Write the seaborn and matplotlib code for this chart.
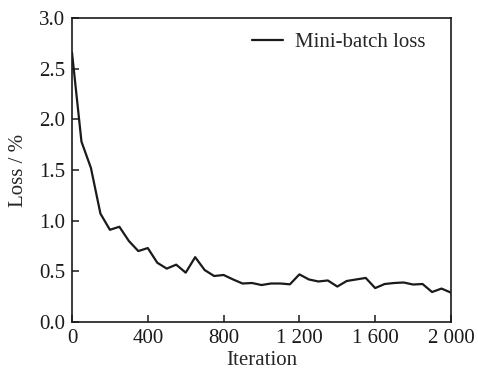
import matplotlib
matplotlib.use("Agg")
import matplotlib.pyplot as plt
import seaborn as sns
import pandas as pd

iterations = [0, 50, 100, 150, 200, 250, 300, 350, 400, 450, 500, 550, 600, 650, 700, 750,
              800, 850, 900, 950, 1000, 1050, 1100, 1150, 1200, 1250, 1300, 1350, 1400, 1450,
              1500, 1550, 1600, 1650, 1700, 1750, 1800, 1850, 1900, 1950, 2000]
loss = [2.66, 1.78, 1.52, 1.07, 0.91, 0.94, 0.80, 0.70, 0.73, 0.585, 0.527, 0.566, 0.487, 0.64,
        0.513, 0.454, 0.464, 0.42, 0.38, 0.385, 0.365, 0.38, 0.38, 0.372, 0.47, 0.42, 0.40,
        0.41, 0.35, 0.405, 0.42, 0.435, 0.335, 0.375, 0.385, 0.39, 0.37, 0.375, 0.296, 0.33, 0.29]
series_name = "Mini-batch loss"
x_ticks = [0, 400, 800, 1200, 1600, 2000]
x_tick_labels = ["0", "400", "800", "1 200", "1 600", "2 000"]
y_ticks = [0.0, 0.5, 1.0, 1.5, 2.0, 2.5, 3.0]
y_tick_labels = ["0.0", "0.5", "1.0", "1.5", "2.0", "2.5", "3.0"]

df = pd.DataFrame({"Iteration": iterations, "Loss": loss, "series": series_name})

sns.set_style("ticks")
plt.rcParams["font.family"] = ["Liberation Serif", "DejaVu Serif"]
plt.rcParams["font.size"] = 15

fig = plt.figure(figsize=(4.78, 3.74), dpi=100)
ax = fig.add_axes([0.1506, 0.139, 0.7929, 0.8129])

sns.lineplot(data=df, x="Iteration", y="Loss", hue="series", palette=["#1a1a1a"],
             linewidth=1.6, ax=ax)

ax.set_xlim(0, 2000)
ax.set_ylim(0, 3.0)
ax.set_xticks(x_ticks)
ax.set_xticklabels(x_tick_labels)
ax.set_yticks(y_ticks)
ax.set_yticklabels(y_tick_labels)
ax.tick_params(direction="in", length=5, width=1.1, labelsize=15, colors="#1a1a1a",
               top=False, right=False, pad=5)
for s in ax.spines.values():
    s.set_linewidth(1.2)
    s.set_color("#1a1a1a")
ax.set_xlabel("Iteration", fontsize=15, labelpad=2)
ax.set_ylabel("Loss / %", fontsize=15, labelpad=8)

leg = ax.legend(loc="upper right", bbox_to_anchor=(0.972, 1.0), frameon=False, fontsize=15,
                handlelength=1.5, handletextpad=0.6, borderaxespad=0.3)

fig.savefig("out.png", dpi=100)
